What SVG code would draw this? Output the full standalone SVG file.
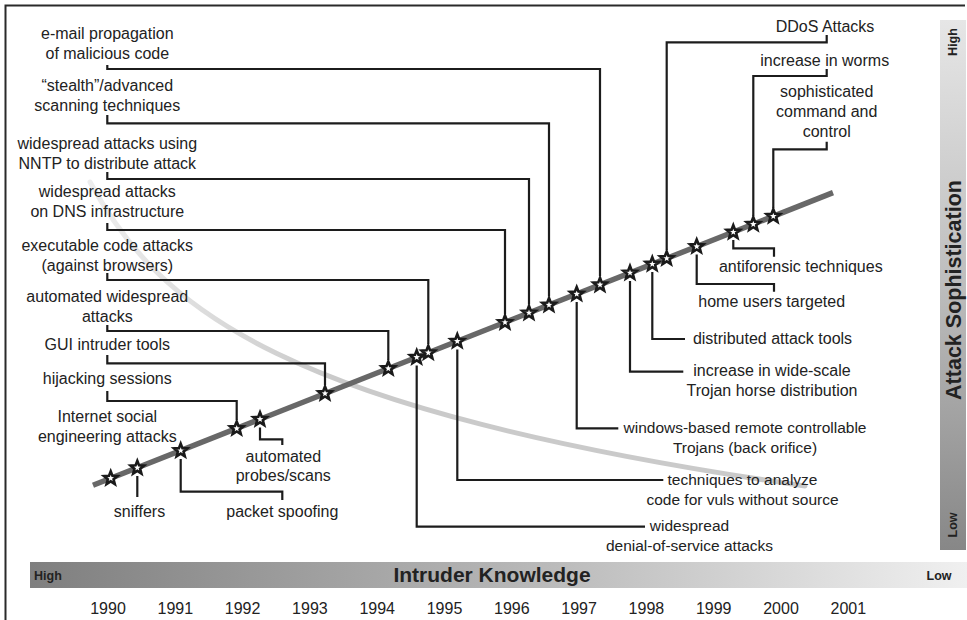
<svg xmlns="http://www.w3.org/2000/svg" xmlns:xlink="http://www.w3.org/1999/xlink" width="967" height="620" viewBox="0 0 967 620">
<style>
text{font-family:"Liberation Sans",Arial,Helvetica,sans-serif;fill:#222;}
.lbl{font-size:16px;}
.sm{font-size:15.5px;}
.c{text-anchor:middle;}
.b{font-weight:bold;}
.con path{fill:none;stroke:#1c1c1c;stroke-width:2.2;stroke-linejoin:miter;}
</style>
<defs>
<linearGradient id="hg" x1="0" y1="0" x2="1" y2="0">
<stop offset="0" stop-color="#7f7f7f"/><stop offset="0.5" stop-color="#b4b4b4"/><stop offset="1" stop-color="#f0f0f0"/>
</linearGradient>
<linearGradient id="vg" x1="0" y1="0" x2="0" y2="1">
<stop offset="0" stop-color="#e6e6e6"/><stop offset="0.5" stop-color="#bdbdbd"/><stop offset="1" stop-color="#878787"/>
</linearGradient>
<linearGradient id="cg" gradientUnits="userSpaceOnUse" x1="90" y1="0" x2="330" y2="0">
<stop offset="0" stop-color="#ededed"/><stop offset="1" stop-color="#cacaca"/>
</linearGradient>
<path id="star" d="M0,-7 L1.76,-2.43 L6.66,-2.16 L2.85,0.93 L4.11,5.66 L0,3 L-4.11,5.66 L-2.85,0.93 L-6.66,-2.16 L-1.76,-2.43 Z" fill="#fff" stroke="#1a1a1a" stroke-width="2.6" stroke-linejoin="miter"/>
</defs>
<rect width="967" height="620" fill="#fff"/>
<path d="M5.5 620 V5.5 H965" fill="none" stroke="#2a2a2a" stroke-width="2"/>

<g id="axis-y">
<rect x="940" y="20" width="26" height="530" fill="url(#vg)"/>
<text class="b" font-size="12.5" transform="translate(957,42) rotate(-90)" text-anchor="middle">High</text>
<text class="b" font-size="21.5" transform="translate(960.5,290) rotate(-90)" text-anchor="middle">Attack Sophistication</text>
<text class="b" font-size="12.5" transform="translate(957,525) rotate(-90)" text-anchor="middle">Low</text>
</g>
<g id="axis-x">
<rect x="30" y="562" width="937" height="26" fill="url(#hg)"/>
<text class="b" font-size="12.5" x="34" y="580">High</text>
<text class="b c" font-size="21" x="492" y="582">Intruder Knowledge</text>
<text class="b c" font-size="12.5" x="939" y="580">Low</text>
</g>
<g id="years">
<text class="lbl c" x="108" y="614">1990</text>
<text class="lbl c" x="175.3" y="614">1991</text>
<text class="lbl c" x="242.6" y="614">1992</text>
<text class="lbl c" x="309.9" y="614">1993</text>
<text class="lbl c" x="377.2" y="614">1994</text>
<text class="lbl c" x="444.5" y="614">1995</text>
<text class="lbl c" x="511.8" y="614">1996</text>
<text class="lbl c" x="579.1" y="614">1997</text>
<text class="lbl c" x="646.4" y="614">1998</text>
<text class="lbl c" x="713.7" y="614">1999</text>
<text class="lbl c" x="781" y="614">2000</text>
<text class="lbl c" x="848.3" y="614">2001</text>
</g>

<g id="knowledge-curve">
<path d="M90 182 C160 310, 280 410, 805 486" fill="none" stroke="url(#cg)" stroke-width="5" stroke-linecap="round"/>
</g>
<g id="trend-line">
<path d="M93 485.3 L833 192.6" stroke="#686868" stroke-width="5.5"/>
</g>

<g id="connectors" class="con">
<path d="M107.3 65 V69 H600 V276"/>
<path d="M107.3 115 V123.3 H549 V296.5"/>
<path d="M107.3 172 V179 H529 V304.5"/>
<path d="M107.3 223 V230 H505 V314"/>
<path d="M107.3 273 V280 H428.3 V344"/>
<path d="M107.3 325 V331 H388.3 V360"/>
<path d="M107.3 355 V363.3 H325 V385"/>
<path d="M107.3 391 V401 H236.7 V420"/>
<path d="M137.3 476 V497"/>
<path d="M180.7 459 V491.7 H282.3 V500"/>
<path d="M260 427.5 V439.3 H282.3 V445"/>
<path d="M416.7 365.5 V526.7 H645"/>
<path d="M457.3 349.5 V480 H663.3"/>
<path d="M576.7 302 V428.3 H618.3"/>
<path d="M630 281 V371.7 H683.3"/>
<path d="M652.3 272 V339 H685"/>
<path d="M696.7 254.5 V284 H774 V291.7"/>
<path d="M733.3 240 V248.3 H774 V256.7"/>
<path d="M826.7 35 V42.3 H666.7 V250"/>
<path d="M826.7 69 V76 H753.3 V216"/>
<path d="M826.7 141.7 V149.3 H773.3 V208"/>
</g>

<g id="n-internet-social"><use xlink:href="#star" x="110.7" y="478.3"/><text class="lbl c" x="107.3" y="422">Internet social</text><text class="lbl c" x="107.3" y="442">engineering attacks</text></g>
<g id="n-sniffers"><use xlink:href="#star" x="137.3" y="467.8"/><text class="lbl c" x="139.5" y="517">sniffers</text></g>
<g id="n-packet-spoofing"><use xlink:href="#star" x="180.7" y="450.6"/><text class="lbl c" x="282.3" y="517">packet spoofing</text></g>
<g id="n-hijacking"><use xlink:href="#star" x="236.7" y="428.5"/><text class="lbl c" x="107.3" y="384">hijacking sessions</text></g>
<g id="n-probes"><use xlink:href="#star" x="260" y="419.3"/><text class="lbl c" x="283.3" y="461.5">automated</text><text class="lbl c" x="283.3" y="480.5">probes/scans</text></g>
<g id="n-gui"><use xlink:href="#star" x="325" y="393.5"/><text class="lbl c" x="107.3" y="350">GUI intruder tools</text></g>
<g id="n-auto-widespread"><use xlink:href="#star" x="388.3" y="368.5"/><text class="lbl c" x="107.3" y="302">automated widespread</text><text class="lbl c" x="107.3" y="321.5">attacks</text></g>
<g id="n-dos"><use xlink:href="#star" x="416.7" y="357.3"/><text class="sm c" x="689.5" y="531">widespread</text><text class="sm c" x="689.5" y="551">denial-of-service attacks</text></g>
<g id="n-exec"><use xlink:href="#star" x="428.3" y="352.7"/><text class="lbl c" x="107.3" y="250.5">executable code attacks</text><text class="lbl c" x="107.3" y="270.5">(against browsers)</text></g>
<g id="n-analyze"><use xlink:href="#star" x="457.3" y="341.2"/><text class="sm c" x="742.5" y="484.5">techniques to analyze</text><text class="sm c" x="742.5" y="504.5">code for vuls without source</text></g>
<g id="n-dns"><use xlink:href="#star" x="505" y="322.4"/><text class="lbl c" x="107.3" y="197">widespread attacks</text><text class="lbl c" x="107.3" y="216.5">on DNS infrastructure</text></g>
<g id="n-nntp"><use xlink:href="#star" x="529" y="312.9"/><text class="lbl c" x="107.3" y="149">widespread attacks using</text><text class="lbl c" x="107.3" y="169">NNTP to distribute attack</text></g>
<g id="n-stealth"><use xlink:href="#star" x="549" y="305"/><text class="lbl c" x="107.3" y="90.5">“stealth”/advanced</text><text class="lbl c" x="107.3" y="110.5">scanning techniques</text></g>
<g id="n-windows"><use xlink:href="#star" x="576.7" y="294"/><text class="sm c" x="745" y="432.5">windows-based remote controllable</text><text class="sm c" x="745" y="452.5">Trojans (back orifice)</text></g>
<g id="n-email"><use xlink:href="#star" x="600" y="284.8"/><text class="lbl c" x="107.3" y="39">e-mail propagation</text><text class="lbl c" x="107.3" y="59">of malicious code</text></g>
<g id="n-trojan"><use xlink:href="#star" x="630" y="272.9"/><text class="lbl c" x="772" y="376">increase in wide-scale</text><text class="lbl c" x="772" y="396">Trojan horse distribution</text></g>
<g id="n-distributed"><use xlink:href="#star" x="652.3" y="264.1"/><text class="lbl c" x="772.5" y="343.5">distributed attack tools</text></g>
<g id="n-ddos"><use xlink:href="#star" x="666.7" y="258.4"/><text class="lbl c" x="825" y="31.5">DDoS Attacks</text></g>
<g id="n-home"><use xlink:href="#star" x="696.7" y="246.5"/><text class="lbl c" x="771.7" y="307">home users targeted</text></g>
<g id="n-antiforensic"><use xlink:href="#star" x="733.3" y="232.1"/><text class="lbl c" x="800.8" y="272">antiforensic techniques</text></g>
<g id="n-worms"><use xlink:href="#star" x="753.3" y="224.2"/><text class="lbl c" x="824.7" y="66">increase in worms</text></g>
<g id="n-c2"><use xlink:href="#star" x="773.3" y="216.2"/><text class="lbl c" x="826.7" y="97">sophisticated</text><text class="lbl c" x="826.7" y="117">command and</text><text class="lbl c" x="826.7" y="136.5">control</text></g>
</svg>
